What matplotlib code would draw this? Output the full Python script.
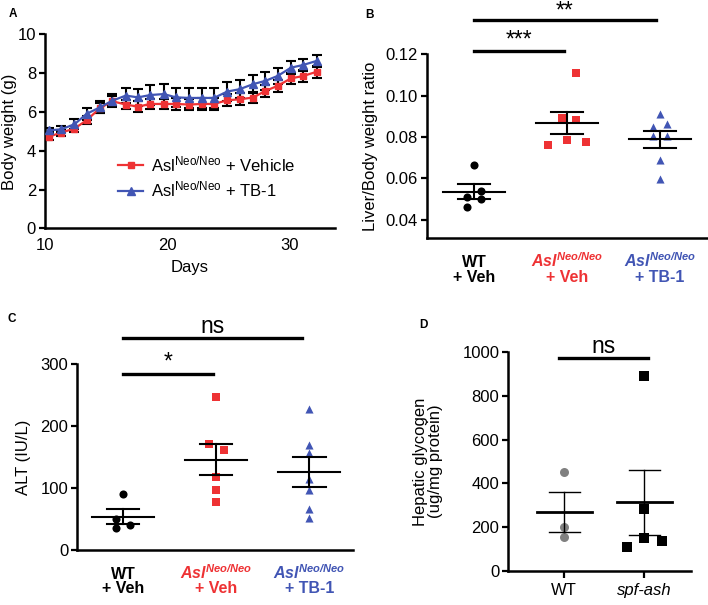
import numpy as np
import matplotlib
matplotlib.use("Agg")
import matplotlib.pyplot as plt
from matplotlib.lines import Line2D

plt.rcParams["font.family"] = ["Liberation Sans", "DejaVu Sans"]
plt.rcParams["mathtext.fontset"] = "custom"
plt.rcParams["mathtext.rm"] = "Liberation Sans"
plt.rcParams["mathtext.it"] = "Liberation Sans:italic"
plt.rcParams["mathtext.bf"] = "Liberation Sans:bold"
plt.rcParams["mathtext.bfit"] = "Liberation Sans:bold:italic"

RED = "#ee3234"
BLUE = "#4155b4"
GREY = "#808080"

# ---- Panel A: body weight over time ----
days = [10.3, 11.3, 12.4, 13.4, 14.5, 15.5, 16.6, 17.6, 18.6, 19.7, 20.7,
        21.8, 22.8, 23.8, 24.9, 25.9, 27.0, 28.0, 29.0, 30.1, 31.1, 32.2]
veh_weight = [4.72, 4.93, 5.14, 5.57, 6.20, 6.55, 6.38, 6.27, 6.41, 6.41, 6.41,
              6.38, 6.41, 6.41, 6.60, 6.65, 6.74, 7.08, 7.34, 7.73, 7.85, 8.07]
veh_sem = [0.15, 0.15, 0.15, 0.2, 0.25, 0.25, 0.25, 0.3, 0.25, 0.25, 0.3,
           0.3, 0.3, 0.3, 0.3, 0.3, 0.3, 0.3, 0.3, 0.3, 0.3, 0.3]
tb1_weight = [5.05, 5.10, 5.36, 5.90, 6.24, 6.58, 6.84, 6.75, 6.87, 6.92, 6.75,
              6.72, 6.72, 6.72, 7.05, 7.17, 7.43, 7.60, 7.85, 8.28, 8.42, 8.63]
tb1_sem = [0.1, 0.15, 0.25, 0.3, 0.3, 0.35, 0.4, 0.45, 0.5, 0.5, 0.5,
           0.5, 0.5, 0.5, 0.5, 0.45, 0.45, 0.45, 0.4, 0.35, 0.3, 0.3]

# ---- Panel B: liver / body weight ratio ----
b_wt = [0.0665, 0.0541, 0.0512, 0.0500, 0.0461]
b_veh = [0.1108, 0.0890, 0.0883, 0.0759, 0.0786, 0.0775]
b_tb1 = [0.0912, 0.0847, 0.0863, 0.0805, 0.0805, 0.0689, 0.0599]

# ---- Panel C: ALT ----
c_wt = [90.4, 49.6, 35.0, 40.4]
c_veh = [247.8, 170.7, 161.6, 118.5, 97.0, 78.0]
c_tb1 = [227.2, 169.6, 156.2, 114.7, 96.9, 65.7, 51.2]

# ---- Panel D: hepatic glycogen ----
d_wt = [450.5, 201.5, 155.7]
d_spf = [892.9, 281.1, 148.4, 107.1, 137.4]
d_labels = ["WT", "spf-ash"]

group_labels = [r"WT", r"$\mathbfit{Asl}^{\mathbfit{Neo/Neo}}$",
                r"$\mathbfit{Asl}^{\mathbfit{Neo/Neo}}$"]
group_sub = ["+ Veh", "+ Veh", "+ TB-1"]
group_colors = ["black", RED, BLUE]

# x jitter for scatter points (layout only)
b_offsets = [[0, 0.075, -0.075, 0.075, -0.075],
             [0.1, -0.05, 0.1, -0.2, 0.0, 0.2],
             [0, -0.075, 0.075, -0.075, 0.075, 0, 0]]
c_offsets = [[0, -0.08, -0.08, 0.08],
             [0, -0.08, 0.08, 0, 0, 0],
             [0, 0, 0, 0, 0, 0, 0]]
d_offsets = [[0, 0, 0], [0, 0, 0, -0.22, 0.22]]

TICK_FS = 12
LABEL_FS = 12


def style_axes(ax):
    for s in ["top", "right"]:
        ax.spines[s].set_visible(False)
    for s in ["left", "bottom"]:
        ax.spines[s].set_linewidth(1.8)
    ax.tick_params(axis="y", width=1.6, length=4, pad=2.5, labelsize=TICK_FS)


def mean_sem(ax, x, vals, half=0.33, cap=0.175, lw=1.5, vlw=1.5):
    vals = np.asarray(vals)
    m = vals.mean()
    sem = vals.std(ddof=1) / np.sqrt(len(vals))
    ax.plot([x - half, x + half], [m, m], color="black", lw=lw, zorder=3)
    ax.plot([x, x], [m - sem, m + sem], color="black", lw=vlw, zorder=3)
    for yy in (m - sem, m + sem):
        ax.plot([x - cap, x + cap], [yy, yy], color="black", lw=vlw, zorder=3)


def sig_bar(ax, x0, x1, y, text, dy_pts=0, fs=16.5):
    ax.plot([x0, x1], [y, y], color="black", lw=2.4, clip_on=False)
    ax.annotate(text, xy=((x0 + x1) / 2, y), xytext=(0, dy_pts),
                textcoords="offset points", ha="center", va="bottom",
                fontsize=fs, annotation_clip=False)


def group_ticklabels(ax, y1, y2):
    ax.set_xticks([0, 1, 2])
    ax.set_xticklabels([])
    ax.tick_params(axis="x", length=0)
    for i in range(3):
        ax.text(i, y1, group_labels[i], transform=ax.get_xaxis_transform(),
                ha="center", va="baseline", color=group_colors[i],
                fontsize=11.5, fontweight="bold")
        ax.text(i, y2, group_sub[i], transform=ax.get_xaxis_transform(),
                ha="center", va="baseline", color=group_colors[i],
                fontsize=11.5, fontweight="bold")


fig = plt.figure(figsize=(7.08, 6.05), dpi=100)

# Panel A
axA = fig.add_axes([0.0636, 0.6226, 0.4096, 0.3207])
style_axes(axA)
axA.errorbar(days, veh_weight, yerr=veh_sem, fmt="none", ecolor="black",
             elinewidth=1.5, capsize=3.5, capthick=1.5, zorder=2)
axA.errorbar(days, tb1_weight, yerr=tb1_sem, fmt="none", ecolor="black",
             elinewidth=1.5, capsize=3.5, capthick=1.5, zorder=2)
axA.plot(days, veh_weight, color=RED, marker="s", ms=5, lw=1.6, zorder=3)
axA.plot(days, tb1_weight, color=BLUE, marker="^", ms=5.5, lw=1.6, zorder=4)
axA.set_xlim(10, 33.7)
axA.set_ylim(0, 10)
axA.set_xticks([10, 20, 30])
axA.set_yticks([0, 2, 4, 6, 8, 10])
axA.tick_params(axis="x", length=0, pad=7, labelsize=TICK_FS)
axA.set_xlabel("Days", fontsize=LABEL_FS, labelpad=5)
axA.set_ylabel("Body weight (g)", fontsize=LABEL_FS)
axA.yaxis.set_label_coords(-0.098, 0.5)
handles = [Line2D([], [], color=RED, marker="s", ms=5, lw=1.6),
           Line2D([], [], color=BLUE, marker="^", ms=5.5, lw=1.6)]
axA.legend(handles, [r"Asl$^{\mathrm{Neo/Neo}}$ + Vehicle",
                     r"Asl$^{\mathrm{Neo/Neo}}$ + TB-1"],
           loc="upper left", bbox_to_anchor=(0.2, 0.46), frameon=False,
           fontsize=12, handlelength=1.5, handletextpad=0.5,
           labelspacing=0.35)

# Panel B
axB = fig.add_axes([0.6027, 0.6061, 0.3955, 0.3041])
style_axes(axB)
for i, (vals, col, mk) in enumerate(zip([b_wt, b_veh, b_tb1],
                                        ["black", RED, BLUE], ["o", "s", "^"])):
    xs = [i + o for o in b_offsets[i]]
    axB.scatter(xs, vals, color=col, marker=mk, s=34, zorder=2, linewidths=0)
    mean_sem(axB, i, vals)
axB.set_xlim(-0.507, 2.5)
axB.set_ylim(0.031, 0.12)
axB.set_yticks([0.04, 0.06, 0.08, 0.10, 0.12])
axB.set_yticklabels(["0.04", "0.06", "0.08", "0.10", "0.12"])
axB.set_ylabel("Liver/Body weight ratio", fontsize=LABEL_FS)
axB.yaxis.set_label_coords(-0.175, 0.5)
group_ticklabels(axB, -0.156, -0.236)
sig_bar(axB, 0, 0.97, 0.1216, "***")
sig_bar(axB, 0, 1.95, 0.1366, "**", dy_pts=-1.5)

# Panel C
axC = fig.add_axes([0.1092, 0.0909, 0.3894, 0.307])
style_axes(axC)
for i, (vals, col, mk) in enumerate(zip([c_wt, c_veh, c_tb1],
                                        ["black", RED, BLUE], ["o", "s", "^"])):
    xs = [i + o for o in c_offsets[i]]
    axC.scatter(xs, vals, color=col, marker=mk, s=34, zorder=2, linewidths=0)
    mean_sem(axC, i, vals)
axC.set_xlim(-0.49, 2.47)
axC.set_ylim(0, 300)
axC.set_yticks([0, 100, 200, 300])
axC.set_ylabel("ALT (IU/L)", fontsize=LABEL_FS)
axC.yaxis.set_label_coords(-0.168, 0.5)
group_ticklabels(axC, -0.158, -0.233)
sig_bar(axC, 0, 0.97, 284.4, "*")
sig_bar(axC, 0, 1.92, 342, "ns")

# Panel D
axD = fig.add_axes([0.718, 0.0567, 0.2576, 0.361])
style_axes(axD)
axD.scatter([0 + o for o in d_offsets[0]], d_wt, color=GREY, marker="o",
            s=42, zorder=2, linewidths=0)
axD.scatter([1 + o for o in d_offsets[1]], d_spf, color="black", marker="s",
            s=42, zorder=2, linewidths=0)
mean_sem(axD, 0, d_wt, half=0.34, cap=0.19, lw=2.0, vlw=1.0)
mean_sem(axD, 1, d_spf, half=0.34, cap=0.19, lw=2.0, vlw=1.0)
axD.set_xlim(-0.7, 1.58)
axD.set_ylim(0, 1000)
axD.set_yticks([0, 200, 400, 600, 800, 1000])
axD.set_xticks([0, 1])
axD.set_xticklabels(d_labels)
axD.get_xticklabels()[1].set_style("italic")
axD.tick_params(axis="x", width=1.6, length=5, labelsize=TICK_FS)
axD.set_ylabel("Hepatic glycogen\n(ug/mg protein)", fontsize=LABEL_FS,
               linespacing=1.0)
axD.yaxis.set_label_coords(-0.358, 0.5)
sig_bar(axD, -0.07, 1.05, 975, "ns")

# panel letters
fig.text(0.012, 0.977, "A", fontsize=8.5, fontweight="bold", va="center")
fig.text(0.516, 0.975, "B", fontsize=8.5, fontweight="bold", va="center")
fig.text(0.010, 0.473, "C", fontsize=8.5, fontweight="bold", va="center")
fig.text(0.592, 0.463, "D", fontsize=8.5, fontweight="bold", va="center")

plt.savefig("out.png", dpi=100)
plt.close()
